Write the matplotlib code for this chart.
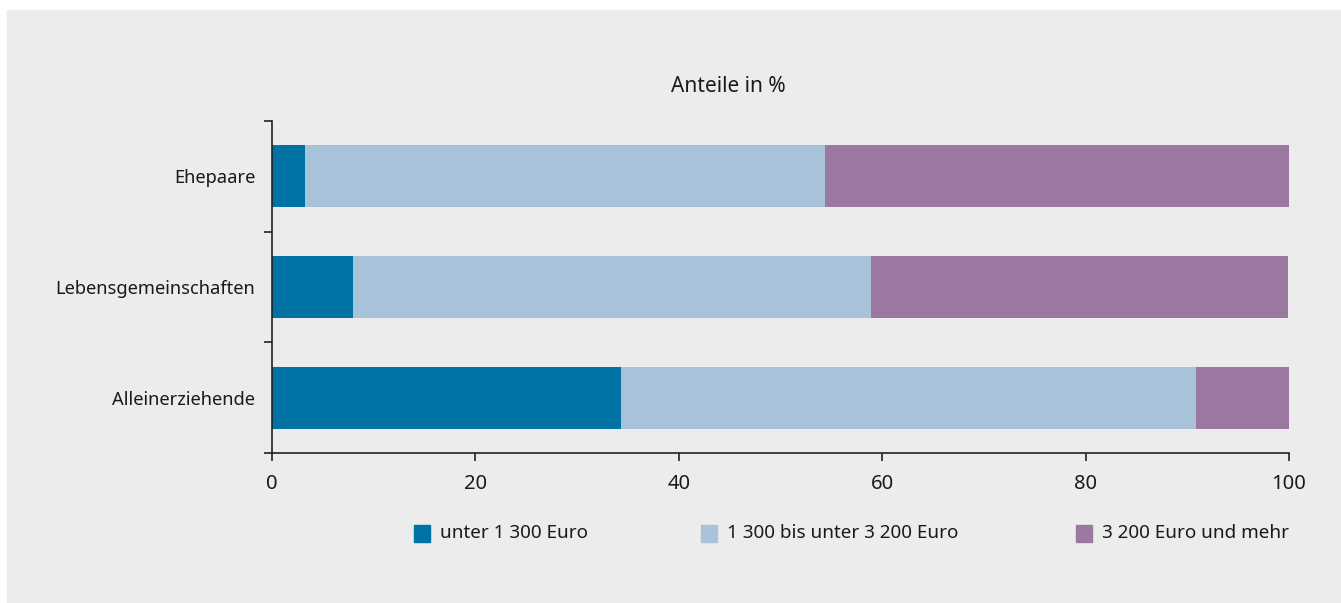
import matplotlib
matplotlib.use("Agg")
import matplotlib.pyplot as plt

# data (shares in %)
categories = ["Ehepaare", "Lebensgemeinschaften", "Alleinerziehende"]
unter_1300 = [3.2, 8.0, 34.3]
von_1300_bis_3200 = [51.2, 50.9, 56.6]
ab_3200 = [45.6, 41.0, 9.1]
series_labels = ["unter 1 300 Euro", "1 300 bis unter 3 200 Euro", "3 200 Euro und mehr"]
x_ticks = [0, 20, 40, 60, 80, 100]

colors = ["#0072a3", "#a8c2d9", "#9b78a0"]
bg = "#ebeceb"
ink = "#1a1a1a"

plt.rcParams["font.family"] = ["Noto Sans", "DejaVu Sans"]
plt.rcParams["text.color"] = ink

W, H = 1341, 603
fig = plt.figure(figsize=(W / 100, H / 100), dpi=100, facecolor="white")
# grey panel behind everything
fig.patches.append(plt.Rectangle((7 / W, 0), 1, 1 - 10 / H,
                                 transform=fig.transFigure, color=bg, zorder=-1))

ax = fig.add_axes([272 / W, 1 - 453 / H, (1289 - 272) / W, (453 - 121) / H])
ax.set_facecolor(bg)

ypos = list(range(len(categories)))
left = [0] * len(categories)
for vals, col, lab in zip([unter_1300, von_1300_bis_3200, ab_3200], colors, series_labels):
    ax.barh(ypos, vals, left=left, height=0.56, color=col, label=lab, linewidth=0)
    left = [a + b for a, b in zip(left, vals)]

ax.set_xlim(0, 100)
ax.set_ylim(2.5, -0.5)
ax.set_xticks(x_ticks)
ax.set_yticks(ypos)
ax.set_yticklabels(categories, fontsize=13.2, color=ink)
ax.set_yticks([-0.5, 0.5, 1.5, 2.5], minor=True)
ax.tick_params(axis="y", which="major", length=0, pad=12)
ax.tick_params(axis="y", which="minor", length=6, width=1.2, color="#222222")
ax.tick_params(axis="x", direction="out", length=6, width=1.2, color="#222222",
               pad=9, labelsize=14.5, labelcolor=ink)
for s in ["top", "right"]:
    ax.spines[s].set_visible(False)
for s in ["left", "bottom"]:
    ax.spines[s].set_linewidth(1.2)
    ax.spines[s].set_color("#222222")

fig.text(728 / W, 1 - 87 / H, "Anteile in %", ha="center", va="center", fontsize=15)

leg_x = [414, 701, 1076]
for col, lab, x in zip(colors, series_labels, leg_x):
    fig.patches.append(plt.Rectangle((x / W, 1 - 542 / H), 16 / W, 17 / H,
                                     transform=fig.transFigure, color=col))
    fig.text((x + 26) / W, 1 - 533 / H, lab, ha="left", va="center", fontsize=13.6)

fig.savefig("out.png", dpi=100, facecolor="white")
